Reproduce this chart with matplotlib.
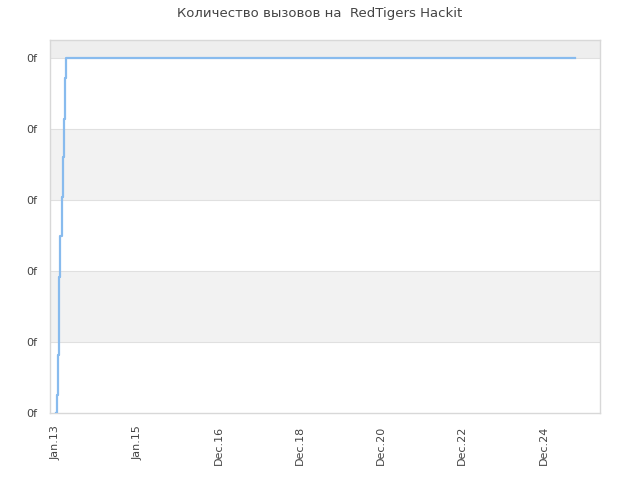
import pandas as pd
import numpy as np
import matplotlib.pyplot as plt
import matplotlib.dates as mdates

# cumulative calls (steps early 2013, then flat)
dates = ['2013-01-04', '2013-01-11', '2013-01-18', '2013-01-25', '2013-02-01',
         '2013-02-09', '2013-02-21', '2013-03-04', '2013-03-15', '2013-03-26',
         '2013-04-05', '2013-04-12', '2025-10-10']
values = [0, 2.5, 8.2, 13.5, 19.2, 24.9, 30.4, 36.1, 41.5, 47.2, 50, 50, 50]

tick_dates = ['2013-01-01', '2015-01-01', '2016-12-31', '2018-12-31',
              '2020-12-30', '2022-12-30', '2024-12-29']
tick_labels = ['Jan.13', 'Jan.15', 'Dec.16', 'Dec.18', 'Dec.20', 'Dec.22', 'Dec.24']
y_ticks = [0, 10, 20, 30, 40, 50]

x = pd.to_datetime(dates)

fig = plt.figure(figsize=(6.4, 4.8), dpi=100)
ax = fig.add_axes([50/640, 67/480, 550/640, 373/480])

# alternating bands
ax.axhspan(10, 20, color='#f2f2f2', zorder=0, lw=0)
ax.axhspan(30, 40, color='#f2f2f2', zorder=0, lw=0)
ax.axhspan(50, 52.6, color='#eeeeee', zorder=0, lw=0)
for v in y_ticks[1:]:
    ax.axhline(v, color='#e0e0e0', lw=0.8, zorder=1)

ax.plot(x, values, drawstyle='steps-post', color='#88bbee', lw=1.6, zorder=3)

ax.set_ylim(0, 52.6)
ax.set_xlim(pd.Timestamp('2012-11-08'), pd.Timestamp('2026-05-20'))
ax.set_yticks(y_ticks)
ax.set_yticklabels(['0f'] * len(y_ticks))
ax.set_xticks(pd.to_datetime(tick_dates))
ax.set_xticklabels(tick_labels, rotation=90)
ax.tick_params(length=0, labelsize=8, colors='#444444', pad=9)

for s in ax.spines.values():
    s.set_color('#d8d8d8')
    s.set_linewidth(1)

fig.suptitle('Количество вызовов на  RedTigers Hackit', fontsize=9.5, color='#444444', y=0.985)

plt.savefig('out.png')
